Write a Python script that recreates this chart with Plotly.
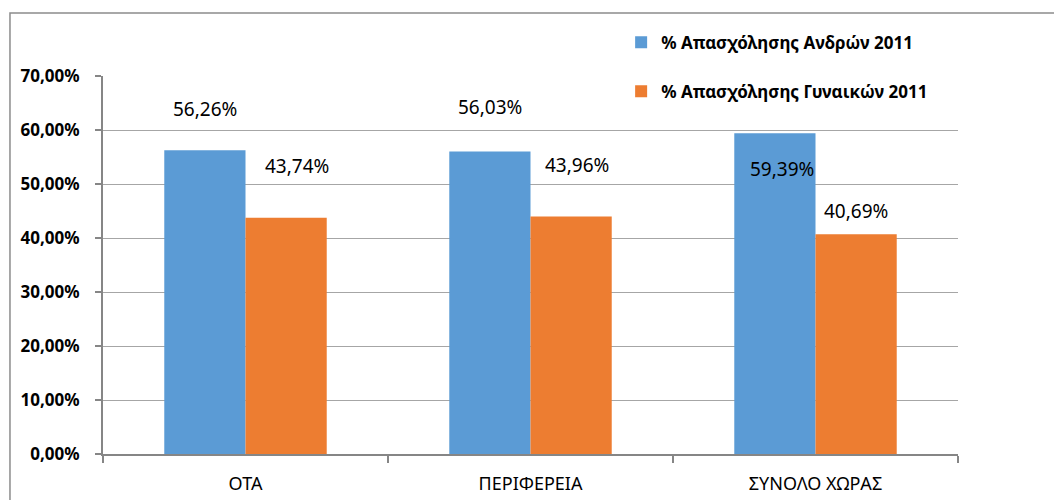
import plotly.graph_objects as go

# Employment rates by gender, 2011
categories = ["ΟΤΑ", "ΠΕΡΙΦΕΡΕΙΑ", "ΣΥΝΟΛΟ ΧΩΡΑΣ"]
men_2011 = [56.26, 56.03, 59.39]
women_2011 = [43.74, 43.96, 40.69]
series_names = ["% Απασχόλησης Ανδρών 2011", "% Απασχόλησης Γυναικών 2011"]
y_ticks = [0, 10, 20, 30, 40, 50, 60, 70]
y_tick_labels = ["0,00%", "10,00%", "20,00%", "30,00%", "40,00%", "50,00%", "60,00%", "70,00%"]

BLUE = "#5B9BD5"
ORANGE = "#ED7D31"
FONT = "Noto Sans"

# label offsets (x px from bar centre, y px from bar top)
men_label_offsets = [(0, 41), (0, 44), (7, -36)]
women_label_offsets = [(11, 52), (6, 52), (0, 23)]

fig = go.Figure()
fig.add_trace(go.Bar(x=categories, y=men_2011, name=series_names[0],
                     marker=dict(color=BLUE, line=dict(width=0)), legendgroup="a"))
fig.add_trace(go.Bar(x=categories, y=women_2011, name=series_names[1],
                     marker=dict(color=ORANGE, line=dict(width=0)), legendgroup="b"))

BAR_HALF = 40.5
for cat, v, (dx, dy) in zip(categories, men_2011, men_label_offsets):
    fig.add_annotation(x=cat, y=v, text=f"{v:.2f}%".replace(".", ","), showarrow=False,
                       xshift=-BAR_HALF + dx, yshift=dy,
                       font=dict(family=FONT, size=19, color="#000000"))
for cat, v, (dx, dy) in zip(categories, women_2011, women_label_offsets):
    fig.add_annotation(x=cat, y=v, text=f"{v:.2f}%".replace(".", ","), showarrow=False,
                       xshift=BAR_HALF + dx, yshift=dy,
                       font=dict(family=FONT, size=19, color="#000000"))

# chart area border
fig.add_shape(type="rect", xref="paper", yref="paper",
              x0=-0.1088, x1=1.2, y0=-0.3, y1=1.1667,
              line=dict(color="#8C8C8C", width=1.5), fillcolor="rgba(0,0,0,0)", layer="below")

fig.update_layout(
    width=1054, height=500,
    margin=dict(l=103, r=96, t=76, b=46),
    paper_bgcolor="white", plot_bgcolor="white",
    barmode="group", bargap=0.43, bargroupgap=0,
    font=dict(family=FONT, color="#000000"),
    showlegend=True,
    legend=dict(x=0.606, y=1.136, xanchor="left", yanchor="top",
                font=dict(family=FONT, size=17, color="#000000", weight="bold"),
                traceorder="grouped", tracegroupgap=24, bgcolor="rgba(0,0,0,0)",
                itemwidth=30),
    xaxis=dict(showline=True, linecolor="#868686", linewidth=2,
               ticks="outside", tickson="boundaries", ticklen=7, tickcolor="#868686", tickwidth=1.5,
               tickfont=dict(family=FONT, size=18, color="#000000"),
               ticklabelstandoff=12, automargin=False,
               showgrid=False, zeroline=False),
    yaxis=dict(range=[0, 70], tickvals=y_ticks, ticktext=y_tick_labels,
               showline=True, linecolor="#868686", linewidth=2,
               ticks="outside", ticklen=6, tickcolor="#868686", tickwidth=1.5,
               ticklabelstandoff=12, automargin=False,
               showgrid=True, gridcolor="#A6A6A6", gridwidth=1.2,
               zeroline=False,
               tickfont=dict(family=FONT, size=17, color="#000000", weight="bold")),
)

fig.write_html("out.html")
